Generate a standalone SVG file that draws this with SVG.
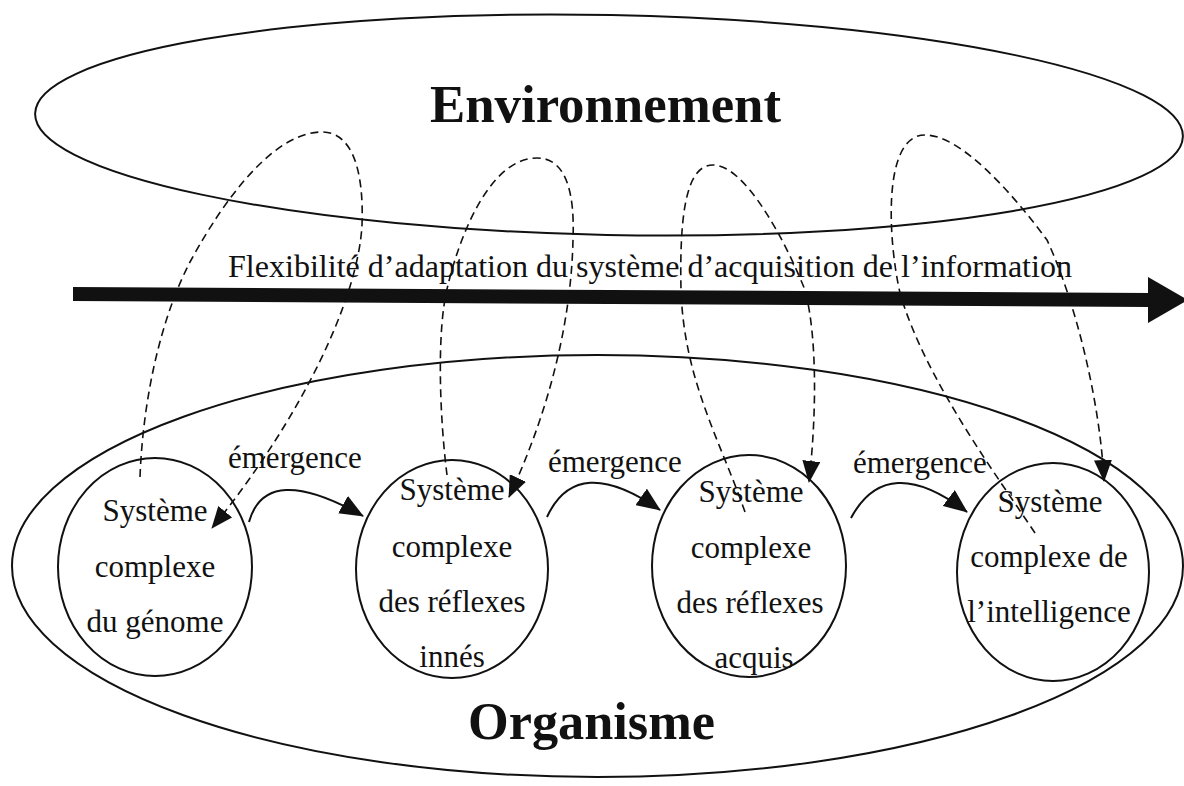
<svg xmlns="http://www.w3.org/2000/svg" width="1184" height="786" viewBox="0 0 1184 786">
  <style>
    .outline { fill: none; stroke: #111; stroke-width: 2; }
    .title { font-family: "Liberation Serif", "Times New Roman", serif; font-weight: bold; font-size: 52px; fill: #111; }
    .txt { font-family: "Liberation Serif", "Times New Roman", serif; font-size: 31px; fill: #111; text-anchor: middle; }
    .lbl { font-family: "Liberation Serif", "Times New Roman", serif; font-size: 31px; fill: #111; }
    .emerge { fill: none; stroke: #111; stroke-width: 2; marker-end: url(#headBig); }
    .loop { fill: none; stroke: #111; stroke-width: 1.6; stroke-dasharray: 8 5; marker-end: url(#headSmall); }
  </style>
  <defs>
    <marker id="headBig" markerUnits="userSpaceOnUse" markerWidth="24" markerHeight="20" refX="23" refY="10" orient="auto">
      <path d="M0,0 L24,10 L0,20 z" fill="#111"/>
    </marker>
    <marker id="headSmall" markerUnits="userSpaceOnUse" markerWidth="22" markerHeight="18" refX="21" refY="9" orient="auto">
      <path d="M0,0 L22,9 L0,18 z" fill="#111"/>
    </marker>
  </defs>

  <rect width="1184" height="786" fill="#fff"/>

  <!-- Environment -->
  <g id="environment">
    <ellipse class="outline" cx="609" cy="125" rx="574" ry="110" transform="rotate(1.15 609 125)"/>
    <text class="title" x="430" y="122" textLength="351" lengthAdjust="spacingAndGlyphs">Environnement</text>
  </g>

  <!-- Organism -->
  <g id="organism">
    <ellipse class="outline" cx="597.5" cy="566" rx="585.5" ry="211"/>
    <text class="title" x="468" y="739" textLength="247" lengthAdjust="spacingAndGlyphs">Organisme</text>
  </g>

  <!-- Adaptive flexibility axis -->
  <g id="flexibility-axis">
    <polygon points="73,287 1150,293 1150,307 73,301" fill="#111"/>
    <polygon points="1148,277 1188,300 1148,323" fill="#111"/>
    <text class="lbl" x="228" y="277" font-size="32" textLength="844" lengthAdjust="spacingAndGlyphs">Flexibilité d’adaptation du système d’acquisition de l’information</text>
  </g>

  <!-- Systems -->
  <g id="genome">
    <ellipse class="outline" cx="155" cy="567" rx="97" ry="109"/>
    <text class="txt" x="155" y="521">Système</text>
    <text class="txt" x="155" y="577">complexe</text>
    <text class="txt" x="155" y="632">du génome</text>
  </g>
  <g id="innate-reflexes">
    <ellipse class="outline" cx="452" cy="569" rx="96" ry="109"/>
    <text class="txt" x="452" y="500">Système</text>
    <text class="txt" x="452" y="557">complexe</text>
    <text class="txt" x="452" y="612">des réflexes</text>
    <text class="txt" x="452" y="667">innés</text>
  </g>
  <g id="acquired-reflexes">
    <ellipse class="outline" cx="749" cy="566" rx="97" ry="111"/>
    <text class="txt" x="751" y="502">Système</text>
    <text class="txt" x="751" y="558">complexe</text>
    <text class="txt" x="750" y="613">des réflexes</text>
    <text class="txt" x="754" y="668">acquis</text>
  </g>
  <g id="intelligence">
    <ellipse class="outline" cx="1053" cy="572" rx="96" ry="109"/>
    <text class="txt" x="1050" y="512">Système</text>
    <text class="txt" x="1049" y="567">complexe de</text>
    <text class="txt" x="1049" y="622">l’intelligence</text>
  </g>

  <!-- Emergence labels -->
  <g id="emergence-labels">
    <text class="lbl" x="228" y="468">émergence</text>
    <text class="lbl" x="548" y="472">émergence</text>
    <text class="lbl" x="853" y="473">émergence</text>
  </g>

  <!-- Connectors -->
  <g id="connectors">
    <path class="emerge" d="M249,522 Q266,461 363,516"/>
    <path class="emerge" d="M547,517 Q577,452 660,510"/>
    <path class="emerge" d="M851,518 Q887,451 967,512"/>

    <path class="loop" d="M140,477 C143,400 160,320 190,262 C210,225 265,132 322,132 C352,132 364,170 362,225 C358,300 300,420 212,528"/>
    <path class="loop" d="M447,475 C440,420 436,330 448,285 C460,235 490,158 537,158 C565,158 575,190 573,240 C571,330 545,420 509,497"/>
    <path class="loop" d="M745,512 C720,440 684,380 681,290 C679,200 690,165 713,165 C745,165 785,240 805,290 C818,340 816,420 809,482"/>
    <path class="loop" d="M1035,533 C1000,480 925,380 900,293 C888,240 882,135 925,135 C960,135 1010,190 1047,240 C1075,300 1100,400 1104,481"/>
  </g>
</svg>
